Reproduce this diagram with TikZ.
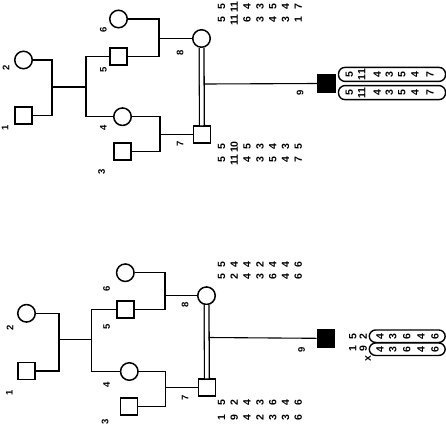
\documentclass[tikz,border=0pt]{standalone}
\usepackage{fontspec}
\setmainfont{Liberation Sans}
\begin{document}
\begin{tikzpicture}[x=1pt,y=-1pt, line width=1.5pt,
  male/.style={draw, rectangle, minimum size=17pt, inner sep=0pt},
  female/.style={draw, circle, minimum size=17.5pt, inner sep=0pt},
  affected/.style={male, fill=black},
  lbl/.style={font=\bfseries\fontsize{9.5}{10}\selectfont, rotate=90, inner sep=0pt},
  al/.style={font=\bfseries\fontsize{10.5}{11}\selectfont, rotate=90, inner sep=0pt},
  hbox/.style={draw, rounded corners=6.5pt, inner sep=0pt, line width=1.4pt},
  dline/.style={line width=1.1pt},
  cons/.style={double distance=3.5pt, line width=1.3pt}]
\fill[white] (0,0) rectangle (446,429);
\useasboundingbox (0,0) rectangle (446,429);

% ================= TOP PANEL =================
\node[male]   (t1) at (23.5,115.5) {};
\node[female] (t2) at (23.5,60) {};
\node[male]   (t3) at (122.5,151.5) {};
\node[female] (t4) at (122.5,116.7) {};
\node[male]   (t5) at (118.5,56.7) {};
\node[female] (t6) at (118.5,19) {};
\node[male]   (t7) at (202,134.5) {};
\node[female] (t8) at (201.5,38.5) {};
\node[affected] (t9) at (326.3,83.5) {};

\coordinate (tj12) at (52,87);
\coordinate (tsib) at (86,87);
\coordinate (tj56) at (159,38.5);
\coordinate (tj34) at (160,134.5);
\coordinate (td9) at (204.2,84);

\draw (t2.east) -| (tj12) |- (t1.east);
\draw (tj12) -- (tsib);
\draw (t5.west) -| (tsib) |- (t4.west);
\draw (t6.east) -| (tj56) |- (t5.east);
\draw (tj56) -- (t8.west);
\draw (t4.east) -| (tj34) |- (t3.east);
\draw (tj34) -- (t7.west);
\draw[cons] (t8) -- (t7);
\draw[dline] (td9) -- (t9.west);

\node[lbl] (tl1) at (5,128) {1};
\node[lbl] (tl2) at (6,68) {2};
\node[lbl] (tl3) at (101.7,171.7) {3};
\node[lbl] (tl4) at (103.3,128.3) {4};
\node[lbl] (tl5) at (103.3,70) {5};
\node[lbl] (tl6) at (103.3,30) {6};
\node[lbl] (tl7) at (180,144) {7};
\node[lbl] (tl8) at (180,53.3) {8};
\node[lbl] (tl9) at (300,92.7) {9};

\foreach \a/\b [count=\i from 0] in {5/5,11/11,6/4,3/3,4/5,3/4,1/7} {
  \node[al] (t8a\i) at (221.5+12.8*\i,20) {\a};
  \node[al] (t8b\i) at (221.5+12.8*\i,7) {\b};
}
\foreach \a/\b [count=\i from 0] in {5/5,11/10,4/5,3/3,5/4,4/3,7/5} {
  \node[al] (t7a\i) at (221.5+12.8*\i,160) {\a};
  \node[al] (t7b\i) at (221.5+12.8*\i,147) {\b};
}

\node[hbox, minimum width=107pt, minimum height=14pt] (tbox1) at (392,74.4) {};
\node[hbox, minimum width=107pt, minimum height=14pt] (tbox2) at (392,92.6) {};
\foreach \v/\x [count=\i] in {5/349.3,11/361.7,4/377.3,3/389.3,5/401.7,4/415,7/430} {
  \node[al] (t9a\i) at (\x,74.6) {\v};
  \node[al] (t9b\i) at (\x,92.8) {\v};
}

% ================= BOTTOM PANEL =================
\node[male]   (b1) at (26.5,371) {};
\node[female] (b2) at (26.5,313.3) {};
\node[male]   (b3) at (129,406.7) {};
\node[female] (b4) at (129.3,371.5) {};
\node[male]   (b5) at (125.5,309.5) {};
\node[female] (b6) at (125.3,272.7) {};
\node[male]   (b7) at (207,387.5) {};
\node[female] (b8) at (206.5,295.7) {};
\node[affected] (b9) at (325.8,338.3) {};

\coordinate (bj12) at (59,339.3);
\coordinate (bsib) at (91.7,339.3);
\coordinate (bj56) at (165,295.7);
\coordinate (bj34) at (165.7,387.5);
\coordinate (bd9) at (208.7,337.5);

\draw (b2.east) -| (bj12) |- (b1.east);
\draw (bj12) -- (bsib);
\draw (b5.west) -| (bsib) |- (b4.west);
\draw (b6.east) -| (bj56) |- (b5.east);
\draw (bj56) -- (b8.west);
\draw (b4.east) -| (bj34) |- (b3.east);
\draw (bj34) -- (b7.west);
\draw[cons] (b8) -- (b7);
\draw[dline] (bd9) -- (b9.west);

\node[lbl] (bl1) at (9.3,393.3) {1};
\node[lbl] (bl2) at (10,328.3) {2};
\node[lbl] (bl3) at (105,422.3) {3};
\node[lbl] (bl4) at (106.7,385) {4};
\node[lbl] (bl5) at (106.7,326.7) {5};
\node[lbl] (bl6) at (106.7,289.3) {6};
\node[lbl] (bl7) at (185,398.3) {7};
\node[lbl] (bl8) at (185,305) {8};
\node[lbl] (bl9) at (301.7,350) {9};

\foreach \a/\b [count=\i from 0] in {5/5,2/4,4/4,3/2,6/4,4/4,6/6} {
  \node[al] (b8a\i) at (221.5+12.8*\i,277) {\a};
  \node[al] (b8b\i) at (221.5+12.8*\i,265) {\b};
}
\foreach \a/\b [count=\i from 0] in {1/5,9/2,4/4,2/3,3/6,3/4,6/6} {
  \node[al] (b7a\i) at (221.5+12.8*\i,418) {\a};
  \node[al] (b7b\i) at (221.5+12.8*\i,403) {\b};
}

\node[al] (b9t1) at (352.7,337) {5};
\node[al] (b9t2) at (363.3,337) {2};
\node[al] (b9u1) at (352.7,349) {1};
\node[al] (b9u2) at (363.3,349) {9};
\node[al] (bx) at (368,358.5) {x};
\node[hbox, minimum width=76pt, minimum height=12.5pt] (bbox1) at (407.2,336.2) {};
\node[hbox, minimum width=76pt, minimum height=12.5pt] (bbox2) at (407.2,349.2) {};
\foreach \v/\x [count=\i] in {4/380,3/392.7,6/406.7,4/421,6/435} {
  \node[al] (b9a\i) at (\x,336.4) {\v};
  \node[al] (b9b\i) at (\x,349.4) {\v};
}
\end{tikzpicture}
\end{document}
